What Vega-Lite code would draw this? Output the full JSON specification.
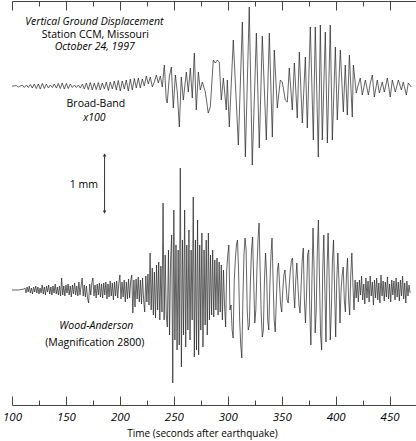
{
"$schema": "https://vega.github.io/schema/vega-lite/v6.json",
"width": 404,
"height": 404,
"autosize": "none",
"padding": {"left": 12, "top": 1, "right": 0, "bottom": 36},
"background": "white",
"config": {"view": {"stroke": null}, "font": "Open Sans"},
"resolve": {"axis": {"x": "independent"}},
"datasets": {
"bb": [
{"t":100,"v":319},{"t":102.1,"v":319},{"t":104,"v":319.5},{"t":105.8,"v":318},{"t":107.7,"v":319},{"t":109.6,"v":320},{"t":111.4,"v":317.5},{"t":113.3,"v":320},{"t":115.1,"v":317.5},{"t":117,"v":320.5},{"t":118.8,"v":317},{"t":120.7,"v":321},{"t":122.5,"v":316.5},{"t":124.4,"v":321},{"t":126.2,"v":316},{"t":128.1,"v":321.5},{"t":130,"v":316.5},{"t":131.8,"v":321},{"t":133.7,"v":317},{"t":135.5,"v":320},{"t":137.4,"v":317.5},{"t":139.2,"v":321},{"t":141.1,"v":317},{"t":142.9,"v":321.5},{"t":144.8,"v":316.5},{"t":146.6,"v":322},{"t":148.5,"v":316},{"t":150.3,"v":321.5},{"t":152.2,"v":316.5},{"t":154,"v":321},{"t":155.9,"v":317.5},{"t":157.8,"v":320},{"t":159.6,"v":317.5},{"t":161.5,"v":320},{"t":163.3,"v":317},{"t":165.2,"v":321},{"t":167,"v":316},{"t":168.9,"v":322},{"t":170.7,"v":315.5},{"t":172.6,"v":322.5},{"t":174.4,"v":315},{"t":176.3,"v":322},{"t":178.1,"v":315.5},{"t":180,"v":322.5},{"t":181.8,"v":315},{"t":183.7,"v":322},{"t":185.6,"v":316},{"t":187.4,"v":323},{"t":189.3,"v":314.5},{"t":191.1,"v":323},{"t":193,"v":316},{"t":194.8,"v":324},{"t":196.7,"v":315},{"t":198.5,"v":324.5},{"t":200.4,"v":314},{"t":202.2,"v":324},{"t":204.1,"v":316},{"t":205.9,"v":325},{"t":207.8,"v":314},{"t":209.7,"v":326},{"t":211.5,"v":315},{"t":213.4,"v":326.5},{"t":215.2,"v":317},{"t":217.1,"v":327},{"t":218.9,"v":317},{"t":220.8,"v":326},{"t":222.6,"v":319},{"t":224.5,"v":329},{"t":226.3,"v":321},{"t":228.2,"v":328},{"t":230.1,"v":318},{"t":231.9,"v":323},{"t":233.8,"v":330},{"t":235.6,"v":322},{"t":237.5,"v":329},{"t":239.3,"v":318},{"t":241.2,"v":340},{"t":243,"v":305},{"t":243.9,"v":302},{"t":245.8,"v":328},{"t":247.7,"v":338},{"t":249.5,"v":297},{"t":251.4,"v":330},{"t":253.2,"v":313},{"t":255.1,"v":278},{"t":256.9,"v":328},{"t":258.8,"v":305},{"t":261.6,"v":333},{"t":263.4,"v":313},{"t":265.3,"v":337},{"t":267.1,"v":307},{"t":269,"v":352},{"t":270.8,"v":295},{"t":272.7,"v":333},{"t":274.5,"v":315},{"t":276.4,"v":323},{"t":279.2,"v":313},{"t":281.9,"v":292},{"t":283.8,"v":298},{"t":286.6,"v":345},{"t":288.4,"v":342},{"t":290.3,"v":345},{"t":292.1,"v":343},{"t":294,"v":305},{"t":295.9,"v":327},{"t":298.6,"v":295},{"t":299.6,"v":325},{"t":301.4,"v":278},{"t":305.1,"v":365},{"t":309.8,"v":260},{"t":313.5,"v":383},{"t":316.3,"v":248},{"t":319.9,"v":398},{"t":322.7,"v":240},{"t":326.5,"v":372},{"t":329.2,"v":257},{"t":332,"v":369},{"t":335.7,"v":265},{"t":338.5,"v":372},{"t":341.3,"v":268},{"t":343.1,"v":355},{"t":345.9,"v":297},{"t":348.7,"v":325},{"t":350.5,"v":323},{"t":353.3,"v":305},{"t":355.2,"v":303},{"t":357,"v":337},{"t":359.8,"v":295},{"t":361.7,"v":342},{"t":364.4,"v":287},{"t":366.3,"v":353},{"t":369.1,"v":282},{"t":371.9,"v":348},{"t":373.7,"v":277},{"t":376.5,"v":378},{"t":379.3,"v":265},{"t":381.1,"v":378},{"t":383.9,"v":248},{"t":385.8,"v":380},{"t":387.6,"v":265},{"t":390.4,"v":373},{"t":392.3,"v":262},{"t":395,"v":380},{"t":396.9,"v":265},{"t":399.7,"v":358},{"t":401.5,"v":285},{"t":404.3,"v":355},{"t":407.1,"v":293},{"t":408.9,"v":340},{"t":410.8,"v":290},{"t":412.7,"v":350},{"t":415.4,"v":288},{"t":416.4,"v":340},{"t":419.1,"v":312},{"t":420.1,"v":317},{"t":422.8,"v":327},{"t":424.7,"v":310},{"t":427.5,"v":325},{"t":430.3,"v":310},{"t":432.1,"v":322},{"t":434,"v":330},{"t":435.8,"v":308},{"t":438.6,"v":325},{"t":440.5,"v":312},{"t":443.2,"v":323},{"t":445.1,"v":313},{"t":447.9,"v":327},{"t":450.6,"v":308},{"t":452.5,"v":325},{"t":455.3,"v":313},{"t":458.1,"v":325},{"t":460.9,"v":315},{"t":462.7,"v":323},{"t":465.5,"v":310},{"t":467.3,"v":322},{"t":470.1,"v":318}
],
"wa": [
{"t":100,"v":115},{"t":106,"v":115},{"t":111,"v":116},
{"t":112,"v":117},{"t":113,"v":112},{"t":114,"v":118},{"t":115,"v":113},{"t":116,"v":119},{"t":117,"v":112},{"t":118,"v":117},{"t":119,"v":111},{"t":120,"v":118},{"t":121,"v":113},{"t":122,"v":119},{"t":123,"v":112},{"t":124,"v":118},{"t":125,"v":111},{"t":126,"v":117},{"t":127,"v":112},{"t":128,"v":120},{"t":129,"v":111},{"t":130,"v":118},{"t":131,"v":110},{"t":132,"v":119},{"t":133,"v":113},{"t":134,"v":120},{"t":135,"v":111},{"t":136,"v":118},{"t":137,"v":110},{"t":138,"v":119},{"t":139,"v":112},{"t":140,"v":121},{"t":141,"v":111},{"t":142,"v":118},{"t":143,"v":110},{"t":144,"v":119},{"t":145,"v":109},{"t":146,"v":127},{"t":147,"v":110},{"t":148,"v":119},{"t":149,"v":109},{"t":150,"v":120},{"t":151,"v":112},{"t":152,"v":121},{"t":153,"v":110},{"t":154,"v":119},{"t":155,"v":108},{"t":156,"v":120},{"t":157,"v":111},{"t":158,"v":122},{"t":159,"v":110},{"t":160,"v":119},{"t":161,"v":109},{"t":162,"v":123},{"t":163,"v":110},{"t":164,"v":119},{"t":165,"v":127},{"t":166,"v":109},{"t":167,"v":120},{"t":168,"v":108},{"t":169,"v":119},{"t":170,"v":107},{"t":171,"v":102},{"t":172,"v":121},{"t":173,"v":110},{"t":174,"v":122},{"t":175,"v":127},{"t":176,"v":109},{"t":177,"v":120},{"t":178,"v":107},{"t":179,"v":121},{"t":180,"v":110},{"t":181,"v":122},{"t":182,"v":108},{"t":183,"v":121},{"t":184,"v":107},{"t":185,"v":122},{"t":186,"v":110},{"t":187,"v":123},{"t":188,"v":106},{"t":189,"v":121},{"t":190,"v":108},{"t":191,"v":124},{"t":192,"v":109},{"t":193,"v":122},{"t":194,"v":105},{"t":195,"v":123},{"t":196,"v":109},{"t":197,"v":124},{"t":198,"v":107},{"t":199,"v":122},{"t":200,"v":130},{"t":201,"v":106},{"t":202,"v":123},{"t":203,"v":108},{"t":204,"v":125},{"t":205,"v":103},{"t":206,"v":123},{"t":207,"v":106},{"t":208,"v":126},{"t":209,"v":107},{"t":210,"v":124},{"t":211,"v":130},{"t":212,"v":92},{"t":213,"v":125},{"t":214,"v":98},{"t":215,"v":126},{"t":216,"v":106},{"t":217,"v":128},{"t":218,"v":103},{"t":219,"v":125},{"t":220,"v":101},{"t":221,"v":127},{"t":222,"v":105},{"t":223,"v":93},{"t":224,"v":129},{"t":225,"v":103},{"t":226,"v":131},{"t":227,"v":100},{"t":228,"v":152},{"t":229,"v":95},{"t":230,"v":137},{"t":231,"v":90},{"t":232,"v":133},{"t":233,"v":87},{"t":234,"v":140},{"t":235,"v":95},{"t":236,"v":143},{"t":237,"v":85},{"t":238,"v":139},{"t":239,"v":93},{"t":240,"v":202},{"t":241,"v":85},{"t":242,"v":150},{"t":243,"v":90},{"t":244,"v":78},{"t":245,"v":155},{"t":246,"v":70},{"t":247,"v":145},{"t":248,"v":170},{"t":249,"v":22},{"t":250,"v":195},{"t":251,"v":65},{"t":252,"v":160},{"t":253,"v":55},{"t":254,"v":155},{"t":255,"v":60},{"t":256,"v":237},{"t":257,"v":38},{"t":258,"v":165},{"t":259,"v":70},{"t":260,"v":195},{"t":261,"v":58},{"t":262,"v":160},{"t":263,"v":75},{"t":264,"v":175},{"t":265,"v":65},{"t":266,"v":155},{"t":267,"v":85},{"t":268,"v":208},{"t":269,"v":48},{"t":270,"v":165},{"t":271,"v":55},{"t":272,"v":185},{"t":273,"v":50},{"t":274,"v":160},{"t":275,"v":75},{"t":276,"v":172},{"t":277,"v":58},{"t":278,"v":155},{"t":279,"v":80},{"t":280,"v":165},{"t":281,"v":70},{"t":282,"v":172},{"t":283,"v":85},{"t":284,"v":150},{"t":285,"v":90},{"t":286,"v":155},{"t":287,"v":88},{"t":288,"v":145},{"t":289,"v":95},{"t":290,"v":147},{"t":291,"v":90},{"t":292,"v":143},{"t":293,"v":93},{"t":294,"v":140},{"t":295,"v":85},{"t":296,"v":135},{"t":297,"v":100},{"t":298,"v":78},{"t":299,"v":135},{"t":300,"v":150},{"t":301,"v":160},{"t":302,"v":95},{"t":303,"v":100},{"t":304,"v":75},{"t":305,"v":67},{"t":306,"v":125},{"t":307,"v":145},{"t":308,"v":160},{"t":309,"v":165},{"t":310,"v":135},{"t":311,"v":85},{"t":312,"v":60},{"t":313,"v":47},{"t":314,"v":105},{"t":315,"v":150},{"t":316,"v":167},{"t":317,"v":155},{"t":318,"v":95},{"t":319,"v":75},{"t":320,"v":80},{"t":321,"v":125},{"t":322,"v":155},{"t":323,"v":168},{"t":324,"v":125},{"t":325,"v":82},{"t":326,"v":95},{"t":327,"v":135},{"t":328,"v":165},{"t":329,"v":182},{"t":330,"v":135},{"t":331,"v":90},{"t":332,"v":68},{"t":333,"v":75},{"t":334,"v":125},{"t":335,"v":152},{"t":336,"v":130},{"t":337,"v":85},{"t":338,"v":75},{"t":339,"v":120},{"t":340,"v":150},{"t":341,"v":167},{"t":342,"v":125},{"t":343,"v":85},{"t":344,"v":73},{"t":345,"v":105},{"t":346,"v":135},{"t":347,"v":142},{"t":348,"v":120},{"t":349,"v":100},{"t":350,"v":93},{"t":351,"v":115},{"t":352,"v":130},{"t":353,"v":135},{"t":354,"v":120},{"t":355,"v":105},{"t":356,"v":102},{"t":357,"v":120},{"t":358,"v":135},{"t":359,"v":145},{"t":360,"v":147},{"t":361,"v":115},{"t":362,"v":97},{"t":363,"v":125},{"t":364,"v":142},{"t":365,"v":120},{"t":366,"v":100},{"t":367,"v":92},{"t":368,"v":120},{"t":369,"v":145},{"t":370,"v":157},{"t":371,"v":105},{"t":372,"v":82},{"t":373,"v":110},{"t":374,"v":150},{"t":375,"v":155},{"t":376,"v":95},{"t":377,"v":60},{"t":378,"v":125},{"t":379,"v":177},{"t":380,"v":135},{"t":381,"v":72},{"t":382,"v":95},{"t":383,"v":155},{"t":384,"v":185},{"t":385,"v":125},{"t":386,"v":70},{"t":387,"v":55},{"t":388,"v":135},{"t":389,"v":170},{"t":390,"v":115},{"t":391,"v":63},{"t":392,"v":135},{"t":393,"v":172},{"t":394,"v":125},{"t":395,"v":65},{"t":396,"v":95},{"t":397,"v":145},{"t":398,"v":165},{"t":399,"v":115},{"t":400,"v":68},{"t":401,"v":125},{"t":402,"v":152},{"t":403,"v":125},{"t":404,"v":82},{"t":405,"v":115},{"t":406,"v":130},{"t":407,"v":138},{"t":408,"v":105},{"t":409,"v":93},{"t":410,"v":130},{"t":411,"v":147},{"t":412,"v":105},{"t":413,"v":90},{"t":414,"v":130},{"t":415,"v":152},{"t":416,"v":120},{"t":417,"v":95},{"t":418,"v":125},{"t":419,"v":107},{"t":420,"v":123},{"t":421,"v":103},{"t":422,"v":125},{"t":423,"v":110},{"t":424,"v":129},{"t":425,"v":105},{"t":426,"v":121},{"t":427,"v":101},{"t":428,"v":127},{"t":429,"v":107},{"t":430,"v":124},{"t":431,"v":103},{"t":432,"v":129},{"t":433,"v":109},{"t":434,"v":123},{"t":435,"v":100},{"t":436,"v":125},{"t":437,"v":107},{"t":438,"v":127},{"t":439,"v":105},{"t":440,"v":122},{"t":441,"v":102},{"t":442,"v":130},{"t":443,"v":109},{"t":444,"v":124},{"t":445,"v":104},{"t":446,"v":123},{"t":447,"v":108},{"t":448,"v":128},{"t":449,"v":106},{"t":450,"v":121},{"t":451,"v":103},{"t":452,"v":125},{"t":453,"v":110},{"t":454,"v":124},{"t":455,"v":105},{"t":456,"v":127},{"t":457,"v":108},{"t":458,"v":123},{"t":459,"v":104},{"t":460,"v":125},{"t":461,"v":109},{"t":462,"v":129},{"t":463,"v":106},{"t":464,"v":122},{"t":465,"v":102},{"t":466,"v":124},{"t":467,"v":109},{"t":468,"v":120},{"t":469,"v":112}
]
},
"layer": [
{
"data": {"name": "bb"},
"mark": {"type": "line", "stroke": "#222", "strokeWidth": 0.7},
"encoding": {
"x": {"field": "t", "type": "quantitative",
"scale": {"domain": [100, 474.45], "nice": false, "zero": false},
"axis": {"orient": "bottom", "values": [100,150,200,250,300,350,400,450],
"title": "Time (seconds after earthquake)", "grid": false, "domain": true, "ticks": true,
"domainColor": "#444", "domainWidth": 1, "tickColor": "#444", "tickWidth": 1, "tickSize": -9,
"labelFont": "Open Sans", "labelFontStyle": "italic", "labelFontSize": 11.5, "labelColor": "black",
"labelPadding": 15.5, "labelFlush": false, "labelOverlap": false,
"titleFont": "Open Sans", "titleFontSize": 10, "titleFontWeight": "normal", "titleColor": "black",
"titlePadding": 5, "titleX": 190}},
"y": {"field": "v", "type": "quantitative", "scale": {"domain": [0, 404], "nice": false, "zero": false}, "axis": null}
}
},
{
"data": {"name": "wa"},
"mark": {"type": "line", "stroke": "#222", "strokeWidth": 0.7},
"encoding": {
"x": {"field": "t", "type": "quantitative",
"axis": {"orient": "top", "values": [100,150,200,250,300,350,400,450],
"labels": false, "title": null, "grid": false, "domain": true, "ticks": true,
"domainColor": "#444", "domainWidth": 1, "tickColor": "#444", "tickWidth": 1, "tickSize": -9}},
"y": {"field": "v", "type": "quantitative", "axis": null}
}
},
{
"data": {"values": [
{"label": "Vertical Ground Displacement", "t": 176.3, "v": 383},
{"label": "October 24, 1997", "t": 176.7, "v": 358},
{"label": "x100", "t": 176.3, "v": 287},
{"label": "Wood-Anderson", "t": 178.2, "v": 79}
]},
"mark": {"type": "text", "font": "Open Sans", "fontSize": 10.5, "fontStyle": "italic", "color": "black", "align": "center", "baseline": "middle"},
"encoding": {
"x": {"field": "t", "type": "quantitative", "axis": null},
"y": {"field": "v", "type": "quantitative", "axis": null},
"text": {"field": "label"}
}
},
{
"data": {"values": [
{"label": "Station CCM, Missouri", "t": 177.2, "v": 370.5},
{"label": "Broad-Band", "t": 177.7, "v": 301},
{"label": "1 mm", "t": 166.6, "v": 220},
{"label": "(Magnification 2800)", "t": 176.7, "v": 62}
]},
"mark": {"type": "text", "font": "Open Sans", "fontSize": 10.5, "color": "black", "align": "center", "baseline": "middle"},
"encoding": {
"x": {"field": "t", "type": "quantitative", "axis": null},
"y": {"field": "v", "type": "quantitative", "axis": null},
"text": {"field": "label"}
}
},
{
"data": {"values": [{"t": 185.8, "lo": 192, "hi": 251}]},
"mark": {"type": "rule", "color": "#333", "strokeWidth": 1},
"encoding": {
"x": {"field": "t", "type": "quantitative",
"axis": {"orient": "bottom", "values": [125,175,225,275,325,375,425], "labels": false, "title": null, "grid": false, "domain": false, "ticks": true, "tickColor": "#444", "tickWidth": 1, "tickSize": -5}},
"y": {"field": "lo", "type": "quantitative", "axis": null},
"y2": {"field": "hi"}
}
},
{
"data": {"values": [{"t": 185.8, "v": 250}]},
"mark": {"type": "point", "shape": "triangle-up", "filled": true, "size": 14, "color": "#333", "opacity": 1},
"encoding": {
"x": {"field": "t", "type": "quantitative",
"axis": {"orient": "top", "values": [125,175,225,275,325,375,425], "labels": false, "title": null, "grid": false, "domain": false, "ticks": true, "tickColor": "#444", "tickWidth": 1, "tickSize": -5}},
"y": {"field": "v", "type": "quantitative", "axis": null}
}
},
{
"data": {"values": [{"t": 185.8, "v": 193}]},
"mark": {"type": "point", "shape": "triangle-down", "filled": true, "size": 14, "color": "#333", "opacity": 1},
"encoding": {
"x": {"field": "t", "type": "quantitative", "axis": null},
"y": {"field": "v", "type": "quantitative", "axis": null}
}
}
]
}
